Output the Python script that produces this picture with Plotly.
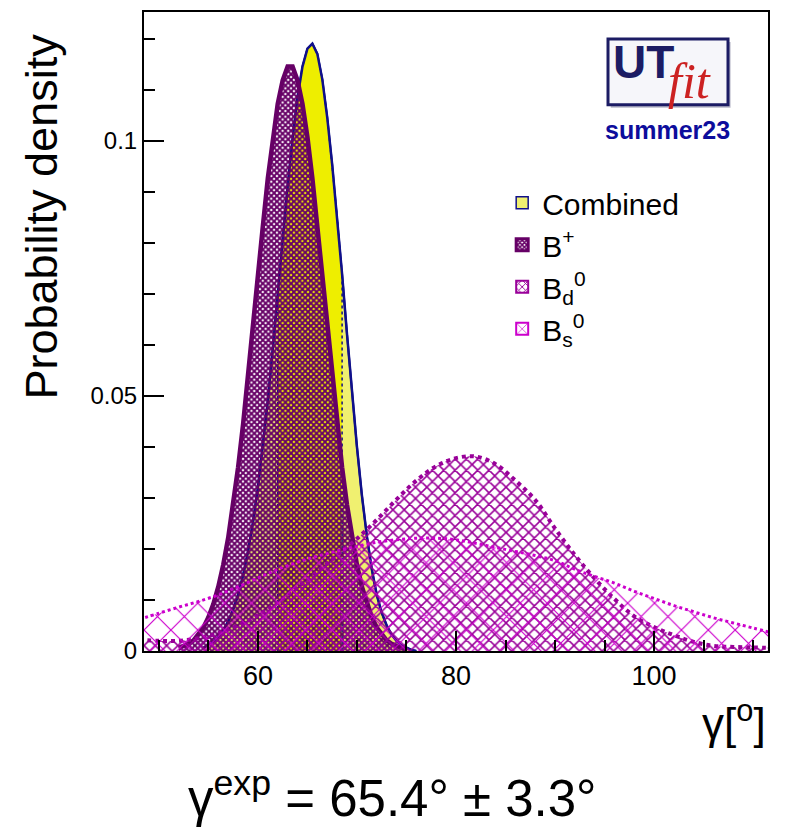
import plotly.graph_objects as go

# ---------------- data ----------------
comb_x = [54.5, 55, 55.5, 56, 56.5, 57, 57.5, 58, 58.5, 59, 59.5, 60, 60.5, 61, 61.5,
          62, 62.5, 63, 63.5, 64, 64.5, 65, 65.5, 66, 66.5, 67, 67.5, 68, 68.5, 69,
          69.5, 70, 70.5, 71, 71.5, 72, 72.5, 73, 73.5, 74, 74.5, 75, 75.5, 76]
comb_y = [0.0006, 0.0012, 0.0019, 0.0028, 0.0041, 0.0058, 0.0081, 0.0110, 0.0148, 0.0195,
          0.0252, 0.0320, 0.0400, 0.0490, 0.0592, 0.0700, 0.0808, 0.0910, 0.1003, 0.1085,
          0.1145, 0.1180, 0.1190, 0.1170, 0.1120, 0.1045, 0.0953, 0.0850, 0.0738, 0.0620,
          0.0505, 0.0400, 0.0305, 0.0225, 0.0160, 0.0110, 0.0075, 0.0050, 0.0032, 0.0020,
          0.0011, 0.0006, 0.0002, 0.0]
band_lo, band_hi = 62.0, 68.5   # 68% probability region of the combined result

bp_x = [52, 52.5, 53, 53.5, 54, 54.5, 55, 55.5, 56, 56.5, 57, 57.5, 58, 58.5, 59, 59.5,
        60, 60.5, 61, 61.5, 62, 62.5, 63, 63.5, 64, 64.5, 65, 65.5, 66, 66.5, 67, 67.5,
        68, 68.5, 69, 69.5, 70, 70.5, 71, 71.5, 72, 72.5, 73, 73.5, 74, 74.5, 75]
bp_y = [0.0006, 0.0009, 0.0014, 0.0021, 0.0032, 0.0046, 0.0066, 0.0092, 0.0126, 0.0169,
        0.0222, 0.0286, 0.0360, 0.0444, 0.0536, 0.0634, 0.0735, 0.0833, 0.0926, 0.1007,
        0.1072, 0.1118, 0.1145, 0.1145, 0.1118, 0.1072, 0.1007, 0.0926, 0.0833, 0.0735,
        0.0634, 0.0536, 0.0444, 0.0360, 0.0286, 0.0222, 0.0169, 0.0126, 0.0092, 0.0066,
        0.0046, 0.0032, 0.0021, 0.0014, 0.0009, 0.0006, 0.0003]

bd_x = [48, 50, 52, 54, 56, 58, 60, 62, 64, 66, 68, 70, 72, 74, 76, 78, 80, 82, 84, 86,
        88, 90, 92, 94, 96, 98, 100, 102, 104, 106, 108, 110, 112]
bd_y = [0.0022, 0.0020, 0.0020, 0.0025, 0.0035, 0.0050, 0.0070, 0.0095, 0.0125, 0.0155,
        0.0188, 0.0220, 0.0257, 0.0297, 0.0334, 0.0362, 0.0378, 0.0381, 0.0366, 0.0334,
        0.0296, 0.0240, 0.0188, 0.0142, 0.0102, 0.0068, 0.0047, 0.0031, 0.0018, 0.0010,
        0.0008, 0.0007, 0.0006]

bs_x = [48, 50, 52, 54, 56, 58, 60, 62, 64, 66, 68, 70, 72, 74, 76, 78, 80, 82, 84, 86,
        88, 90, 92, 94, 96, 98, 100, 102, 104, 106, 108, 110, 112]
bs_y = [0.0062, 0.0074, 0.0086, 0.0097, 0.0110, 0.0126, 0.0143, 0.0160, 0.0174, 0.0186,
        0.0196, 0.0205, 0.0213, 0.0218, 0.0221, 0.0221, 0.0218, 0.0211, 0.0203, 0.0195,
        0.0187, 0.0177, 0.0160, 0.0146, 0.0133, 0.0117, 0.0103, 0.0089, 0.0077, 0.0065,
        0.0055, 0.0045, 0.0035]

legend_names = ["Combined", "B<sup>+</sup>", "B<sub>d</sub><sup>0</sup>", "B<sub>s</sub><sup>0</sup>"]
x_ticks = [60, 80, 100]
y_ticks = [0, 0.05, 0.1]
y_ticktext = ["0", "0.05", "0.1"]

# ---------------- styles ----------------
PALE = "#f0f070"
BRIGHT = "#eeee00"
NAVY = "#10108a"
BPLUS = "#660066"
BD = "#990099"
BS = "#cc00cc"
FONT = "Liberation Sans, Arial, sans-serif"

band_x = [x for x in comb_x if band_lo <= x <= band_hi]
band_y = [y for x, y in zip(comb_x, comb_y) if band_lo <= x <= band_hi]

fig = go.Figure()

# Combined: full region (pale) with outline
fig.add_trace(go.Scatter(x=comb_x, y=comb_y, mode="lines", fill="tozeroy",
                         fillcolor=PALE, line=dict(color=NAVY, width=2),
                         showlegend=False, hoverinfo="skip"))
# Combined: 68% region (bright yellow), dotted borders
fig.add_trace(go.Scatter(x=[band_x[0]] + band_x + [band_x[-1]],
                         y=[0] + band_y + [0], mode="lines", fill="toself",
                         fillcolor=BRIGHT, line=dict(color=NAVY, width=1.5, dash="dot"),
                         showlegend=False, hoverinfo="skip"))
fig.add_trace(go.Scatter(x=comb_x, y=comb_y, mode="lines",
                         line=dict(color=NAVY, width=2.5),
                         showlegend=False, hoverinfo="skip"))
# B+
fig.add_trace(go.Scatter(x=bp_x, y=bp_y, mode="lines", fill="tozeroy",
                         fillcolor="rgba(0,0,0,0)",
                         fillpattern=dict(shape="x", size=4, solidity=0.72, fgcolor=BPLUS,
                                          bgcolor="rgba(0,0,0,0)", fillmode="replace"),
                         line=dict(color=BPLUS, width=4.5),
                         showlegend=False, hoverinfo="skip"))
# B0d
fig.add_trace(go.Scatter(x=bd_x, y=bd_y, mode="lines", fill="tozeroy",
                         line_shape="spline",
                         fillcolor="rgba(0,0,0,0)",
                         fillpattern=dict(shape="x", size=8, solidity=0.35, fgcolor=BD,
                                          bgcolor="rgba(0,0,0,0)", fillmode="replace"),
                         line=dict(color=BD, width=4, dash="dot"),
                         showlegend=False, hoverinfo="skip"))
# B0s
fig.add_trace(go.Scatter(x=bs_x, y=bs_y, mode="lines", fill="tozeroy",
                         line_shape="spline",
                         fillcolor="rgba(0,0,0,0)",
                         fillpattern=dict(shape="x", size=19, solidity=0.12, fgcolor=BS,
                                          bgcolor="rgba(0,0,0,0)", fillmode="replace"),
                         line=dict(color=BS, width=3, dash="dot"),
                         showlegend=False, hoverinfo="skip"))

# legend entries (square boxes)
leg_styles = [
    dict(color=PALE, line=dict(color=NAVY, width=1.5)),
    dict(color="rgba(0,0,0,0)", pattern=dict(shape="x", size=4, solidity=0.72, fgcolor=BPLUS,
                                             bgcolor="white", fillmode="replace"),
         line=dict(color=BPLUS, width=3)),
    dict(color="rgba(0,0,0,0)", pattern=dict(shape="x", size=6, solidity=0.35, fgcolor=BD,
                                             bgcolor="white", fillmode="replace"),
         line=dict(color=BD, width=2)),
    dict(color="rgba(0,0,0,0)", pattern=dict(shape="x", size=10, solidity=0.15, fgcolor=BS,
                                             bgcolor="white", fillmode="replace"),
         line=dict(color=BS, width=2)),
]
for name, mk in zip(legend_names, leg_styles):
    fig.add_trace(go.Bar(x=[None], y=[None], name=name, marker=mk, showlegend=True))

fig.update_layout(
    width=785, height=829,
    margin=dict(l=144, r=17, t=10, b=178),
    plot_bgcolor="white", paper_bgcolor="white",
    font=dict(family=FONT, color="black"),
    barmode="overlay",
    legend=dict(x=0.574, y=0.742, xanchor="left", yanchor="top",
                bgcolor="rgba(0,0,0,0)", font=dict(size=30, family=FONT),
                tracegroupgap=0, itemwidth=30),
    xaxis=dict(range=[48.5, 111.5], showgrid=False, zeroline=False,
               showline=True, linecolor="black", linewidth=2, mirror=True,
               ticks="inside", ticklen=20, tickwidth=2, tickcolor="black",
               tickvals=x_ticks, tickfont=dict(size=27, family=FONT),
               minor=dict(dtick=5, tick0=0, ticks="inside", ticklen=11, tickwidth=2,
                          tickcolor="black", showgrid=False)),
    yaxis=dict(range=[0, 0.1252], showgrid=False, zeroline=False,
               showline=True, linecolor="black", linewidth=2, mirror=True,
               ticks="inside", ticklen=20, tickwidth=2, tickcolor="black",
               tickvals=y_ticks, ticktext=y_ticktext,
               tickfont=dict(size=24, family=FONT),
               minor=dict(dtick=0.01, tick0=0, ticks="inside", ticklen=11, tickwidth=2,
                          tickcolor="black", showgrid=False)),
)

# axis titles and labels
fig.add_annotation(text="Probability density", xref="paper", yref="paper",
                   x=-0.165, y=0.68, xanchor="center", yanchor="middle", textangle=-90,
                   showarrow=False, font=dict(size=45, family=FONT, color="black"))
fig.add_annotation(text="γ[<sup>o</sup>]", xref="paper", yref="paper",
                   x=1.0, y=-0.108, xanchor="right", yanchor="middle",
                   showarrow=False, font=dict(size=44, family=FONT, color="black"))
fig.add_annotation(text="γ<sup>exp</sup> = 65.4° ± 3.3°", xref="paper", yref="paper",
                   x=0.397, y=-0.2246, xanchor="center", yanchor="middle",
                   showarrow=False, font=dict(size=51, family=FONT, color="black"))

# UTfit logo
fig.add_shape(type="rect", xref="paper", yref="paper", x0=0.748, x1=0.940, y0=0.850, y1=0.953,
              line=dict(width=0), fillcolor="#b8b8c8", layer="above")
fig.add_shape(type="rect", xref="paper", yref="paper", x0=0.7436, x1=0.9359, y0=0.8549, y1=0.9579,
              line=dict(color="#1c1c64", width=3), fillcolor="#f6f6fa", layer="above")
fig.add_annotation(text="<b>UT</b>", xref="paper", yref="paper", x=0.748, y=0.921,
                   xanchor="left", yanchor="middle", showarrow=False,
                   font=dict(size=46, family=FONT, color="#1c1c64"))
fig.add_annotation(text="<i>fit</i>", xref="paper", yref="paper", x=0.836, y=0.892,
                   xanchor="left", yanchor="middle", showarrow=False,
                   font=dict(size=50, family="Liberation Serif, Times New Roman, serif",
                             color="#cc2222"))
fig.add_annotation(text="<b>summer23</b>", xref="paper", yref="paper", x=0.8397, y=0.8159,
                   xanchor="center", yanchor="middle", showarrow=False,
                   font=dict(size=25, family=FONT, color="#0d0d9c"))

fig.write_html("out.html")
